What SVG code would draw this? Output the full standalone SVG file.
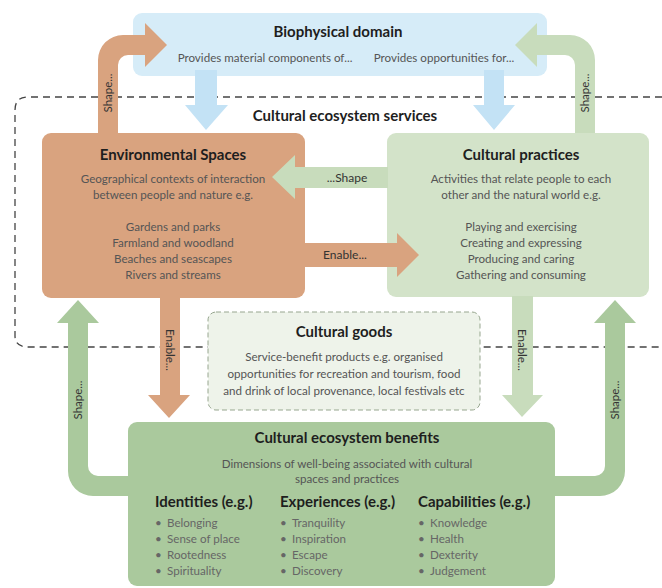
<svg xmlns="http://www.w3.org/2000/svg" width="662" height="588" viewBox="0 0 662 588">
<style>
text{font-family:Lato,"Open Sans","Liberation Sans",sans-serif;fill:#555;font-size:11.6px}
.t{font-weight:bold;fill:#1e1e1e;font-size:15px}
.h{font-weight:bold;fill:#1e1e1e;font-size:15px}
.m{text-anchor:middle}
.lab{fill:#333;font-size:12px;text-anchor:middle}
.rl{fill:#333;font-size:11.5px;text-anchor:middle}
.bl text{fill:#666}
</style>
<rect width="662" height="588" fill="#fff"/>
<g id="boundary">
<path d="M662,97 L28,97 Q15,97 15,110 L15,336 Q15,347 28,347 L662,347" fill="none" stroke="#444" stroke-width="1.3" stroke-dasharray="7,5"/>
<text class="t m" x="345" y="121">Cultural ecosystem services</text>
</g>
<g id="biophysical">
<rect x="133" y="13" width="414" height="63" rx="9" fill="#d6ecf8"/>
<text class="t m" x="338" y="37">Biophysical domain</text>
<text class="m" x="265" y="62">Provides material components of...</text>
<text class="m" x="444" y="62">Provides opportunities for...</text>
</g>
<g id="connectors">
<path d="M195,70 L217,70 L217,105 L228,105 L206,130 L185,105 L195,105 Z" fill="#c3e2f5"/>
<path d="M484,70 L504,70 L504,105 L515,105 L494,130 L473,105 L484,105 Z" fill="#c3e2f5"/>
<path d="M98,140 L98,60 A25,25 0 0 1 123,35 L145,35 L145,23 L167,45 L145,67 L145,55 L128,55 A10,10 0 0 0 118,65 L118,140 Z" fill="#d9a37f"/>
<text class="rl" transform="translate(112,93) rotate(-90)">Shape...</text>
<path d="M595,140 L595,60 A25,25 0 0 0 570,35 L537,35 L537,23 L515,45 L537,67 L537,55 L565,55 A10,10 0 0 1 575,65 L575,140 Z" fill="#c8dcbc"/>
<text class="rl" transform="translate(589,93) rotate(-90)">Shape...</text>
</g>
<g id="env">
<rect x="42" y="133" width="263" height="165" rx="9" fill="#d9a37f"/>
<text class="h m" x="173" y="160">Environmental Spaces</text>
<text class="m" x="173" y="183">Geographical contexts of interaction</text>
<text class="m" x="173" y="199">between people and nature e.g.</text>
<text class="m" x="173" y="231">Gardens and parks</text>
<text class="m" x="173" y="247">Farmland and woodland</text>
<text class="m" x="173" y="263">Beaches and seascapes</text>
<text class="m" x="173" y="279">Rivers and streams</text>
</g>
<g id="practices">
<rect x="387" y="133" width="262" height="164" rx="9" fill="#d3e3c9"/>
<text class="h m" x="521" y="160">Cultural practices</text>
<text class="m" x="521" y="183">Activities that relate people to each</text>
<text class="m" x="521" y="199">other and the natural world e.g.</text>
<text class="m" x="521" y="231">Playing and exercising</text>
<text class="m" x="521" y="247">Creating and expressing</text>
<text class="m" x="521" y="263">Producing and caring</text>
<text class="m" x="521" y="279">Gathering and consuming</text>
</g>
<g id="connectors2">
<path d="M388,167 L295,167 L295,155 L272,177 L295,199 L295,188 L388,188 Z" fill="#c8dcbc"/>
<text class="lab" x="347" y="182">...Shape</text>
<path d="M304,243 L397,243 L397,233 L419,255 L397,277 L397,267 L304,267 Z" fill="#d9a37f"/>
<text class="lab" x="345" y="259">Enable...</text>
<path d="M160,297 L180,297 L180,395 L190,395 L169,418 L148,395 L160,395 Z" fill="#d9a37f"/>
<text class="rl" transform="translate(166,350) rotate(90)">Enable...</text>
<path d="M512,296 L533,296 L533,395 L543,395 L522,417 L502,395 L512,395 Z" fill="#c8dcbc"/>
<text class="rl" transform="translate(518,350) rotate(90)">Enable...</text>
<path d="M140,476 L98,476 A10,10 0 0 1 88,466 L88,323 L99,323 L78,300 L57,323 L68,323 L68,471 A25,25 0 0 0 93,496 L140,496 Z" fill="#aac99d"/>
<text class="rl" transform="translate(82,400) rotate(-90)">Shape...</text>
<path d="M548,476 L595,476 A10,10 0 0 0 605,466 L605,323 L594,323 L615,300 L636,323 L625,323 L625,471 A25,25 0 0 1 600,496 L548,496 Z" fill="#aac99d"/>
<text class="rl" transform="translate(619,400) rotate(-90)">Shape...</text>
</g>
<g id="goods">
<rect x="208" y="312" width="272" height="98" rx="8" fill="#eef3ea" stroke="#97a68f" stroke-width="1" stroke-dasharray="5,3"/>
<text class="h m" x="344" y="337">Cultural goods</text>
<text class="m" x="344" y="361">Service-benefit products e.g. organised</text>
<text class="m" x="344" y="378">opportunities for recreation and tourism, food</text>
<text class="m" x="344" y="395">and drink of local provenance, local festivals etc</text>
</g>
<g id="benefits">
<rect x="128" y="422" width="427" height="164" rx="9" fill="#aac99d"/>
<text class="h m" x="347" y="443">Cultural ecosystem benefits</text>
<text class="m" x="347" y="468">Dimensions of well-being associated with cultural</text>
<text class="m" x="347" y="483">spaces and practices</text>
<text class="h" x="155" y="507">Identities (e.g.)</text>
<text class="h" x="280" y="507">Experiences (e.g.)</text>
<text class="h" x="418" y="507">Capabilities (e.g.)</text>
<g class="bl">
<text x="155" y="527">•</text><text x="167" y="527">Belonging</text>
<text x="155" y="543">•</text><text x="167" y="543">Sense of place</text>
<text x="155" y="559">•</text><text x="167" y="559">Rootedness</text>
<text x="155" y="575">•</text><text x="167" y="575">Spirituality</text>
<text x="280" y="527">•</text><text x="292" y="527">Tranquility</text>
<text x="280" y="543">•</text><text x="292" y="543">Inspiration</text>
<text x="280" y="559">•</text><text x="292" y="559">Escape</text>
<text x="280" y="575">•</text><text x="292" y="575">Discovery</text>
<text x="418" y="527">•</text><text x="430" y="527">Knowledge</text>
<text x="418" y="543">•</text><text x="430" y="543">Health</text>
<text x="418" y="559">•</text><text x="430" y="559">Dexterity</text>
<text x="418" y="575">•</text><text x="430" y="575">Judgement</text>
</g>
</g>
</svg>
